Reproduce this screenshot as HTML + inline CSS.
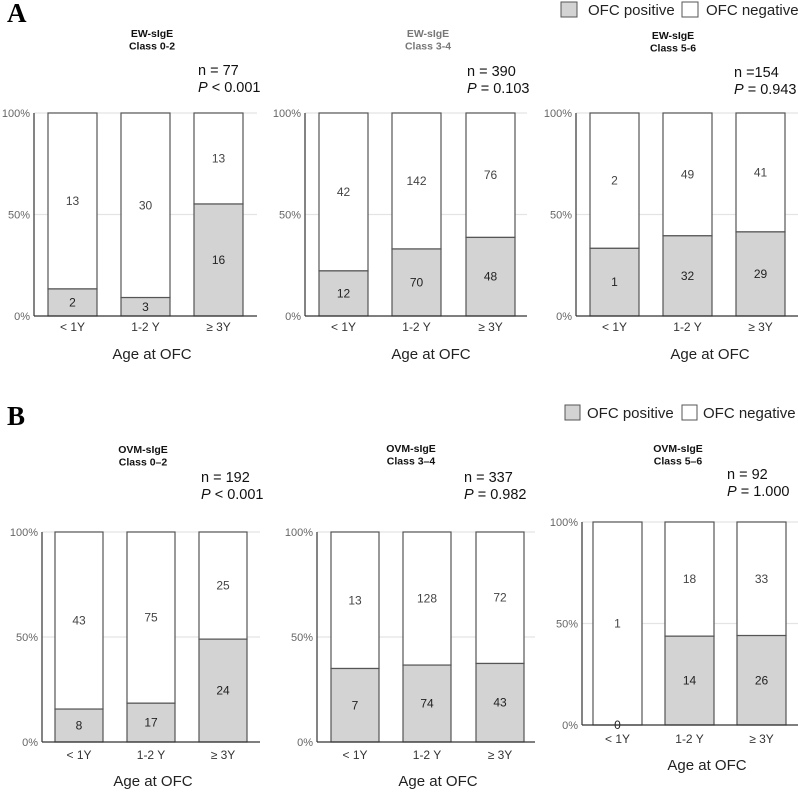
<!DOCTYPE html>
<html><head><meta charset="utf-8"><style>
body{margin:0;background:#fff;width:798px;height:810px;overflow:hidden}
svg{display:block}
text{font-family:"Liberation Sans",sans-serif}
text.serif{font-family:"Liberation Serif",serif}
</style></head><body>
<svg id="fig" width="798" height="810" viewBox="0 0 798 810">
<text class="serif" x="7" y="22" font-weight="bold" font-size="27">A</text>
<text class="serif" x="7" y="425" font-weight="bold" font-size="27">B</text>
<g>
<rect x="561" y="2" width="16" height="15" fill="#d3d3d3" stroke="#555"/>
<text x="588" y="15" font-size="15" fill="#222">OFC positive</text>
<rect x="682" y="2" width="16" height="15" fill="#fff" stroke="#555"/>
<text x="706" y="15" font-size="15" fill="#222">OFC negative</text>
</g>
<g>
<rect x="565" y="405" width="15" height="15" fill="#d3d3d3" stroke="#555"/>
<text x="587" y="418" font-size="15" fill="#222">OFC positive</text>
<rect x="682" y="405" width="15" height="15" fill="#fff" stroke="#555"/>
<text x="703" y="418" font-size="15" fill="#222">OFC negative</text>
</g>
</svg>
<script>
const categories = ["< 1Y", "1-2 Y", "\u2265 3Y"];
const tickLabels = ["0%", "50%", "100%"];
const tickValues = [0, 0.5, 1];
const a1Pos = [2, 3, 16], a1Neg = [13, 30, 13];
const a2Pos = [12, 70, 48], a2Neg = [42, 142, 76];
const a3Pos = [1, 32, 29], a3Neg = [2, 49, 41];
const b1Pos = [8, 17, 24], b1Neg = [43, 75, 25];
const b2Pos = [7, 74, 43], b2Neg = [13, 128, 72];
const b3Pos = [0, 14, 26], b3Neg = [1, 18, 33];
const titles1 = ["EW-sIgE","EW-sIgE","EW-sIgE","OVM-sIgE","OVM-sIgE","OVM-sIgE"];
const titles2 = ["Class 0-2","Class 3-4","Class 5-6","Class 0\u20132","Class 3\u20134","Class 5\u20136"];
const nLabels = ["n = 77","n = 390","n =154","n = 192","n = 337","n = 92"];
const pLabels = [" < 0.001"," = 0.103"," = 0.943"," < 0.001"," = 0.982"," = 1.000"];

const NS="http://www.w3.org/2000/svg";
const svg=document.getElementById('fig');
function mk(tag,attrs,parent){const e=document.createElementNS(NS,tag);for(const k in attrs)e.setAttribute(k,attrs[k]);(parent||svg).appendChild(e);return e;}

const layouts=[
 {ax:34,top:113,bot:316,bx:[48,121,194],bw:49,gx:257,tc:152,ty:37,nx:198,ny:75,lc:152,ly:359,xl:331,tcol:"#111"},
 {ax:305,top:113,bot:316,bx:[319,392,466],bw:49,gx:527,tc:428,ty:37,nx:467,ny:76,lc:431,ly:359,xl:331,tcol:"#777"},
 {ax:576,top:113,bot:316,bx:[590,663,736],bw:49,gx:798,tc:673,ty:39,nx:734,ny:77,lc:710,ly:359,xl:331,tcol:"#111"},
 {ax:42,top:532,bot:742,bx:[55,127,199],bw:48,gx:260,tc:143,ty:453,nx:201,ny:482,lc:153,ly:786,xl:759,tcol:"#111"},
 {ax:317,top:532,bot:742,bx:[331,403,476],bw:48,gx:535,tc:411,ty:452,nx:464,ny:482,lc:438,ly:786,xl:759,tcol:"#111"},
 {ax:582,top:522,bot:725,bx:[593,665,737],bw:49,gx:798,tc:678,ty:452,nx:727,ny:479,lc:707,ly:770,xl:743,tcol:"#111"}
];
const pos=[a1Pos,a2Pos,a3Pos,b1Pos,b2Pos,b3Pos];
const neg=[a1Neg,a2Neg,a3Neg,b1Neg,b2Neg,b3Neg];
const names=["a1","a2","a3","b1","b2","b3"];

layouts.forEach((L,pi)=>{
  const g=mk('g',{});
  
  
  const y=v=>L.bot-v*(L.bot-L.top);
  const t=mk('text',{x:L.tc,y:L.ty,'text-anchor':'middle','font-size':10.5,'font-weight':'bold',fill:L.tcol},g);
  
  
  mk('tspan',{x:L.tc},t).textContent=titles1[pi];
  mk('tspan',{x:L.tc,dy:12.5},t).textContent=titles2[pi];
  const n=mk('text',{x:L.nx,y:L.ny,'font-size':14.5,fill:'#111'},g);
  
  
  n.textContent=nLabels[pi];
  const p=mk('text',{x:L.nx,y:L.ny+17,'font-size':14.5,fill:'#111'},g);
  
  
  mk('tspan',{'font-style':'italic'},p).textContent='P';
  mk('tspan',{},p).textContent=pLabels[pi];
  tickValues.forEach((v,i)=>{
    if(v>0){const gl=mk('line',{x1:L.ax,x2:L.gx,y1:y(v),y2:y(v),stroke:'#e4e4e4','stroke-width':1.2},g);
      
      }
    const tl=mk('text',{x:L.ax-4,y:y(v)+4,'text-anchor':'end','font-size':11,fill:'#666'},g);
    
    
    tl.textContent=tickLabels[i];
  });
  categories.forEach((c,i)=>{
    const tot=pos[pi][i]+neg[pi][i];
    const f=pos[pi][i]/tot;
    const x=L.bx[i];
    const r1=mk('rect',{x:x,y:y(1),width:L.bw,height:y(f)-y(1),fill:'#fff',stroke:'#555','stroke-width':1.2},g);
    
    
    const r2=mk('rect',{x:x,y:y(f),width:L.bw,height:y(0)-y(f),fill:'#d3d3d3',stroke:'#555','stroke-width':1.2},g);
    
    
    const cx=x+L.bw/2;
    const tn=mk('text',{x:cx,y:(y(1)+y(f))/2+4,'text-anchor':'middle','font-size':12,fill:'#444'},g);
    
    
    tn.textContent=neg[pi][i];
    const tp=mk('text',{x:cx,y:(y(f)+y(0))/2+4,'text-anchor':'middle','font-size':12,fill:'#222'},g);
    
    
    tp.textContent=pos[pi][i];
    const xl=mk('text',{x:cx,y:L.xl,'text-anchor':'middle','font-size':12,fill:'#333'},g);
    
    
    xl.textContent=c;
  });
  const ya=mk('line',{x1:L.ax,x2:L.ax,y1:L.top,y2:L.bot,stroke:'#333','stroke-width':1.2},g);
  
  
  const xa=mk('line',{x1:L.ax,x2:L.gx,y1:L.bot,y2:L.bot,stroke:'#333','stroke-width':1.2},g);
  
  
  const at=mk('text',{x:L.lc,y:L.ly,'text-anchor':'middle','font-size':15,fill:'#222'},g);
  
  
  at.textContent='Age at OFC';
});
</script>
</body></html>
